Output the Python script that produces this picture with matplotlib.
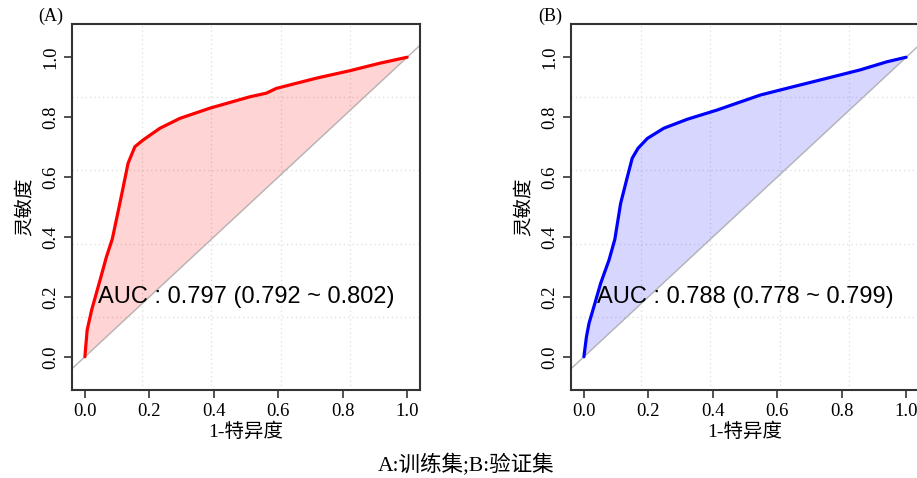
import numpy as np
import matplotlib
matplotlib.use("Agg")
import matplotlib.pyplot as plt

plt.rcParams['font.family'] = ['Liberation Serif', 'Noto Sans CJK SC']

# ROC points
fpr_a = [0.0, 0.007, 0.021, 0.047, 0.067, 0.085, 0.110, 0.134, 0.155, 0.181, 0.233,
         0.295, 0.388, 0.512, 0.563, 0.594, 0.718, 0.822, 0.915, 1.0]
tpr_a = [0.0, 0.089, 0.156, 0.256, 0.334, 0.393, 0.520, 0.646, 0.701, 0.724, 0.763,
         0.796, 0.830, 0.868, 0.880, 0.896, 0.930, 0.955, 0.980, 1.0]
fpr_b = [0.0, 0.008, 0.016, 0.031, 0.052, 0.078, 0.096, 0.114, 0.135, 0.150, 0.168,
         0.197, 0.248, 0.321, 0.414, 0.548, 0.651, 0.755, 0.858, 0.941, 1.0]
tpr_b = [0.0, 0.067, 0.112, 0.167, 0.245, 0.323, 0.392, 0.512, 0.601, 0.663, 0.696,
         0.729, 0.763, 0.793, 0.824, 0.874, 0.902, 0.930, 0.958, 0.985, 1.0]
auc_text = ["AUC : 0.797 (0.792 ~ 0.802)", "AUC : 0.788 (0.778 ~ 0.799)"]
panel_names = ["(A)", "(B)"]
ticks = [0.0, 0.2, 0.4, 0.6, 0.8, 1.0]
tick_labels = ["0.0", "0.2", "0.4", "0.6", "0.8", "1.0"]

fig = plt.figure(figsize=(9.17, 4.78), dpi=100)
lefts = [72 / 917, 571 / 917]
curves = [(fpr_a, tpr_a, "#ff0000", (1, 0, 0, 0.17)),
          (fpr_b, tpr_b, "#0000ff", (0.2, 0.2, 1, 0.2))]
xlim = (-0.04, 1.04)
ylim = (-0.111, 1.111)

for i, (fx, ty, col, fill) in enumerate(curves):
    ax = fig.add_axes([lefts[i], 88 / 478, 348 / 917, 366 / 478])
    ax.set_xlim(xlim)
    ax.set_ylim(ylim)
    for g in np.linspace(xlim[0], xlim[1], 6)[1:-1]:
        ax.axvline(g, color="#dcdcdc", lw=0.9, ls=(0, (1, 2.5)), zorder=0)
    for g in np.linspace(ylim[0], ylim[1], 6)[1:-1]:
        ax.axhline(g, color="#dcdcdc", lw=0.9, ls=(0, (1, 2.5)), zorder=0)
    ax.fill_between(fx, ty, fx, color=fill, lw=0, zorder=1)
    ax.plot([-0.2, 1.2], [-0.2, 1.2], color="#b4b4b4", lw=1.0, zorder=2)
    ax.plot(fx, ty, color=col, lw=2.3, solid_capstyle="round", zorder=3)
    ax.text(0.5, 0.2, auc_text[i], ha="center", va="center",
            fontsize=17, family="Liberation Sans", zorder=4)
    ax.set_xticks(ticks)
    ax.set_xticklabels(tick_labels)
    ax.set_yticks(ticks)
    ax.set_yticklabels(tick_labels, rotation=90, va="center")
    ax.tick_params(direction="out", length=6, width=1.2, labelsize=13.5,
                   color="#333333", pad=3)
    for s in ax.spines.values():
        s.set_linewidth(1.5)
        s.set_color("#333333")
    ax.set_xlabel("1-特异度", fontsize=14, labelpad=2)
    ax.set_ylabel("灵敏度", fontsize=14, labelpad=6)
    fig.text(lefts[i] - 9 / 917, 1 - 16 / 478, panel_names[i], fontsize=13,
             ha="right", va="center")

fig.text(466 / 917, 1 - 465 / 478, "A:训练集;B:验证集", fontsize=15.5,
         ha="center", va="center")

fig.savefig("out.png", dpi=100)
